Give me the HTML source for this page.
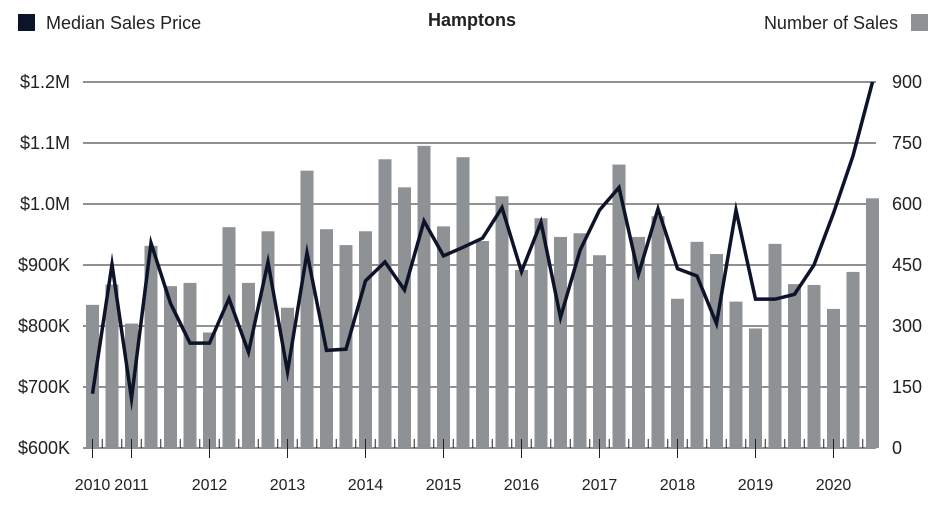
<!DOCTYPE html>
<html><head><meta charset="utf-8"><style>
html,body{margin:0;padding:0;background:#fff;}
body{width:944px;height:502px;overflow:hidden;font-family:"Liberation Sans",sans-serif;}
svg text{font-family:"Liberation Sans",sans-serif;fill:#222;}
</style></head><body>
<svg id="chart" width="944" height="502" xmlns="http://www.w3.org/2000/svg">
<rect x="18" y="14" width="17" height="17" fill="#0d1329"/>
<text x="46" y="29" font-size="18">Median Sales Price</text>
<text x="472" y="26" font-size="18" font-weight="bold" text-anchor="middle">Hamptons</text>
<text x="898" y="29" font-size="18" text-anchor="end">Number of Sales</text>
<rect x="911" y="14" width="17" height="17" fill="#8e9295"/>
<g id="grid"></g><g id="bars"></g><g id="axes"></g><g id="line"></g>
</svg>
<script>
const sales=[352,402,306,497,398,406,284,543,406,533,345,682,538,499,533,710,641,743,545,715,509,619,438,565,519,528,474,697,519,570,367,507,477,360,294,502,403,401,342,433,614];
const prices=[689,901,681,936,837,772,772,845,757,905,725,920,760,762,874,905,859,972,915,929,944,994,889,970,814,924,990,1027,885,992,894,882,804,990,844,844,852,900,985,1079,1200];
const yearLabels=["2010","2011","2012","2013","2014","2015","2016","2017","2018","2019","2020"];
const yearIdx=[0,2,6,10,14,18,22,26,30,34,38];
const priceTicks=[600,700,800,900,1000,1100,1200];
const priceTickLabels=["$600K","$700K","$800K","$900K","$1.0M","$1.1M","$1.2M"];
const salesTicks=[0,150,300,450,600,750,900];

const NS="http://www.w3.org/2000/svg";
const X0=92.5,STEP=19.5,TOP=82,BASE=448,LEFT=83,RIGHT=876;
const xAt=i=>X0+i*STEP;
const ySales=v=>BASE-(v/900)*(BASE-TOP);
const yPrice=v=>BASE-((v-600)/600)*(BASE-TOP);
function mk(tag,attrs,parent){const e=document.createElementNS(NS,tag);for(const k in attrs)e.setAttribute(k,attrs[k]);document.getElementById(parent).appendChild(e);return e;}

priceTicks.forEach((p,i)=>{
  const y=yPrice(p);
  const g=mk('line',{x1:LEFT,x2:RIGHT,y1:y,y2:y,stroke:'#222','stroke-width':1},'grid');
  
  
  const t=mk('text',{x:70,y:y+6,'font-size':18,'text-anchor':'end'},'axes');t.textContent=priceTickLabels[i];
  
  
  const r=mk('text',{x:892,y:y+6,'font-size':18},'axes');r.textContent=salesTicks[i];
  
  
});
sales.forEach((v,i)=>{
  const y=ySales(v);
  const b=mk('rect',{x:xAt(i)-6.5,y:y,width:13,height:BASE-y,fill:'#8e9295'},'bars');
  
  
  if(i<sales.length-1){const tk=mk('line',{x1:xAt(i)+STEP/2,x2:xAt(i)+STEP/2,y1:BASE-9,y2:BASE,stroke:'#222','stroke-width':1},'axes');
  
  }
});
yearIdx.forEach((idx,i)=>{
  const x=xAt(idx);
  const tk=mk('line',{x1:x,x2:x,y1:BASE-9,y2:BASE+10,stroke:'#222','stroke-width':1},'axes');
  
  
  const t=mk('text',{x:x,y:490,'font-size':16,'text-anchor':'middle'},'axes');t.textContent=yearLabels[i];
  
  
});
const pts=prices.map((p,i)=>xAt(i)+','+yPrice(p)).join(' ');
const pl=mk('polyline',{points:pts,fill:'none',stroke:'#0d1329','stroke-width':3.5,'stroke-linejoin':'miter','stroke-miterlimit':10},'line');


</script>
</body></html>
